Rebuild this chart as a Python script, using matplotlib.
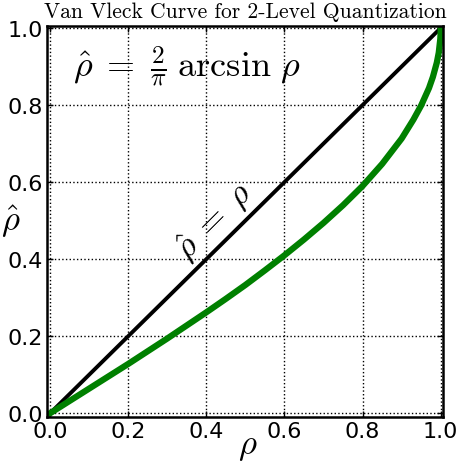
import matplotlib
matplotlib.use("Agg")
import matplotlib.pyplot as plt

plt.rcParams['mathtext.fontset'] = 'cm'

# values
rho = [0.0, 0.05, 0.1, 0.15, 0.2, 0.25, 0.3, 0.35, 0.4, 0.45, 0.5, 0.55, 0.6, 0.65,
       0.7, 0.75, 0.8, 0.85, 0.9, 0.93, 0.95, 0.97, 0.98, 0.99, 0.995, 0.999, 0.9999, 1.0]
rho_hat = [0.0, 0.032, 0.064, 0.096, 0.128, 0.161, 0.194, 0.228, 0.262, 0.297, 0.333,
           0.371, 0.410, 0.451, 0.494, 0.540, 0.590, 0.647, 0.713, 0.762, 0.799, 0.844,
           0.873, 0.910, 0.936, 0.972, 0.991, 1.0]
diag = [0.0, 1.0]
ticks = [0.0, 0.2, 0.4, 0.6, 0.8, 1.0]
tick_labels = ["0.0", "0.2", "0.4", "0.6", "0.8", "1.0"]

W, H = 460, 464
ax_rect = [0.103, 0.0998, 0.861, 0.8427]

fig = plt.figure(figsize=(4.6, 4.64), dpi=100)
ax = fig.add_axes(ax_rect)
ax.plot(diag, diag, color='black', lw=2.8, solid_capstyle='butt')
ax.plot(rho, rho_hat, color='#008000', lw=4.5)
ax.set_xlim(-0.007, 1.007)
ax.set_ylim(-0.009, 1.006)
ax.set_xticks(ticks)
ax.set_xticklabels(tick_labels)
ax.set_yticks(ticks)
ax.set_yticklabels(tick_labels)
ax.tick_params(direction='in', top=True, right=True, labelsize=16, length=4, width=1, pad=3)
ax.grid(True, color='black', linestyle=':', linewidth=1)
for s in ax.spines.values():
    s.set_linewidth(1.8)

ax.set_title("Van Vleck Curve for 2-Level Quantization", fontsize=15.5,
             family='cmr10', pad=6)
ax.text(0.42, 0.50, r"$\hat{\rho}\;=\;\rho$", rotation=45, fontsize=25,
        ha='center', va='center', transform=ax.transData)
ax.text(0.058, 0.905, r"$\hat{\rho}\;=\;\frac{2}{\pi}\;\arcsin\,\rho$", fontsize=26,
        ha='left', va='center')


def fig_to_axes(px, py):
    fx = px / W
    fy = (H - py) / H
    return ((fx - ax_rect[0]) / ax_rect[2], (fy - ax_rect[1]) / ax_rect[3])


ax.set_xlabel(r"$\rho$", fontsize=25, ha='center', va='center')
ax.xaxis.set_label_coords(*fig_to_axes(248, 446))
ax.set_ylabel(r"$\hat{\rho}$", fontsize=25, rotation=0, ha='center', va='center')
ax.yaxis.set_label_coords(*fig_to_axes(11, 222))

fig.savefig("out.png", dpi=100)
